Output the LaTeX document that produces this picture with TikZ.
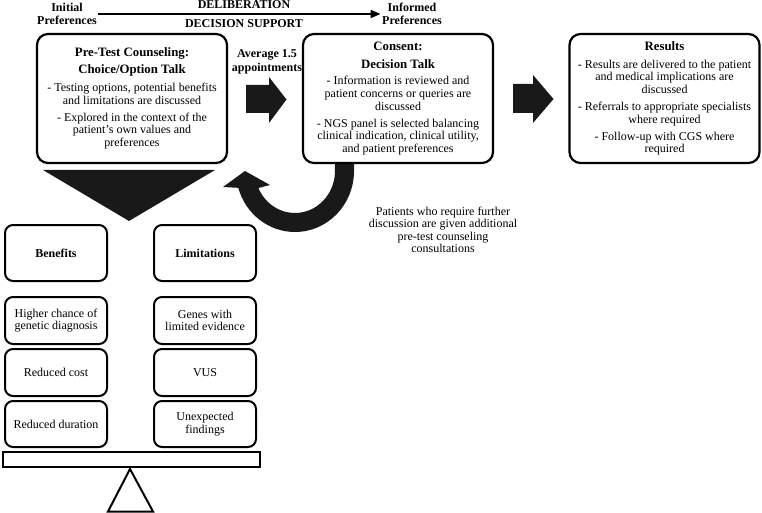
\documentclass[tikz,border=0pt]{standalone}
\usepackage{fontspec}
\setmainfont{Liberation Serif}
\usetikzlibrary{arrows.meta}
\newcommand\mytitlefont{\bfseries\fontsize{12.8}{13}\selectfont}
\begin{document}
\begin{tikzpicture}[x=1pt,y=1pt]
\tikzset{
 bigbox/.style={draw, line width=2.2pt, rounded corners=11pt, align=center, fill=white,
   font=\fontsize{12}{12.6}\selectfont, inner sep=0pt, minimum width=190pt, minimum height=129pt},
 smallbox/.style={draw, line width=2pt, rounded corners=8pt, align=center, fill=white,
   font=\fontsize{12}{12.6}\selectfont, inner sep=0pt, minimum width=102pt},
 lbl/.style={font=\bfseries\fontsize{12}{13.5}\selectfont, align=center, inner sep=1.5pt},
 blk/.style={fill=black!90, draw=none},
 plain/.style={font=\fontsize{12}{12.5}\selectfont, align=center, inner sep=0pt}
}
\useasboundingbox (0,0) rectangle (762,-513);

% top labels
\node[lbl] (init) at (67,-14) {Initial\\Preferences};
\node[lbl] (inf) at (412,-14) {Informed\\Preferences};
\draw[line width=1.8pt, -{Triangle[length=10pt,width=8pt]}] (init.east) -- (inf.west);
\node[lbl] (delib) at (244,-5) {DELIBERATION};
\node[lbl] (decsup) at (244,-24) {DECISION SUPPORT};
\node[lbl] (avg) at (267,-62) {Average 1.5\\appointments};

% curved return arrow
\path[blk] (354,-164) -- (354,-171)
  arc[start angle=0, end angle=-164, x radius=59, y radius=61]
  -- (223,-187) -- (245,-171) -- (270,-185) -- (258.4,-188)
  arc[start angle=-156.1, end angle=0, x radius=40, y radius=42]
  -- (335,-164) -- cycle;

% main boxes
\node[bigbox] (pre) at (132,-98.5) {{\mytitlefont Pre-Test Counseling:}\\[4.5pt]{\mytitlefont Choice/Option Talk}\\[5pt]
 - Testing options, potential benefits\\ and limitations are discussed\\[4.5pt]
 - Explored in the context of the\\ patient's own values and\\ preferences};
\node[bigbox] (cons) at (398,-98.5) {{\mytitlefont Consent:}\\[5pt]{\mytitlefont Decision Talk}\\[4pt]
 - Information is reviewed and\\ patient concerns or queries are\\ discussed\\[4.5pt]
 - NGS panel is selected balancing\\ clinical indication, clinical utility,\\ and patient preferences};
\node[bigbox] (res) at (664.5,-98.5) {{\mytitlefont Results}\\[5pt]
 - Results are delivered to the patient\\ and medical implications are\\ discussed\\[4.5pt]
 - Referrals to appropriate specialists\\ where required\\[4.5pt]
 - Follow-up with CGS where\\ required};

% block arrows
\path[blk] (246,-85) -- (269,-85) -- (269,-77) -- (286.5,-99.5) -- (269,-123) -- (269,-113) -- (246,-113) -- cycle;
\path[blk] (513,-84) -- (533,-84) -- (533,-75) -- (553.5,-99) -- (533,-123) -- (533,-113) -- (513,-113) -- cycle;

% funnel
\path[blk] (43,-170) -- (215,-170) -- (129,-221) -- cycle;

% note
\node[plain] (note) at (443,-230) {Patients who require further\\discussion are given additional\\pre-test counseling\\consultations};

% benefits / limitations
\node[smallbox, minimum height=56pt, font=\bfseries\fontsize{12}{12.6}\selectfont] (ben) at (56,-253) {Benefits};
\node[smallbox, minimum height=56pt, font=\bfseries\fontsize{12}{12.6}\selectfont] (lim) at (205,-253) {Limitations};
\node[smallbox, minimum height=47pt] (b1) at (56,-320.5) {Higher chance of\\genetic diagnosis};
\node[smallbox, minimum height=47pt] (b2) at (56,-372.5) {Reduced cost};
\node[smallbox, minimum height=46pt] (b3) at (56,-424) {Reduced duration};
\node[smallbox, minimum height=47pt] (l1) at (205,-320.5) {Genes with\\limited evidence};
\node[smallbox, minimum height=47pt] (l2) at (205,-372.5) {VUS};
\node[smallbox, minimum height=46pt] (l3) at (205,-424) {Unexpected\\findings};

% beam and fulcrum
\node[draw, line width=2pt, minimum width=257pt, minimum height=15pt, inner sep=0pt] (beam) at (131.5,-459.5) {};
\draw[line width=2pt, line join=miter] (130,-469) -- (153,-511.5) -- (108,-511.5) -- cycle;
\end{tikzpicture}
\end{document}
